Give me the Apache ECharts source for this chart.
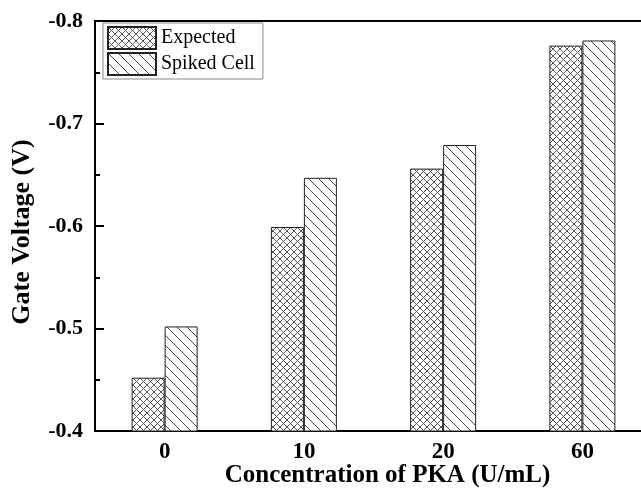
<!DOCTYPE html>
<html>
<head>
<meta charset="utf-8">
<script src="https://cdn.jsdelivr.net/npm/echarts@6/dist/echarts.min.js"></script>
<style>
  html, body { margin: 0; padding: 0; background: #fff; }
  #chart { width: 641px; height: 489px; }
</style>
</head>
<body>
<div id="chart"></div>
<script>
// data
const categories = ['0', '10', '20', '60'];
const seriesNames = ['Expected', 'Spiked Cell'];
const expected = [-0.452, -0.599, -0.656, -0.776];
const spiked = [-0.502, -0.647, -0.679, -0.781];

const FONT = '"Liberation Serif", "Times New Roman", serif';

// hatch patterns drawn on small canvases
function crossHatch() {
  const c = document.createElement('canvas');
  c.width = 7; c.height = 7;
  const g = c.getContext('2d');
  g.fillStyle = '#fff';
  g.fillRect(0, 0, 7, 7);
  g.strokeStyle = '#555';
  g.lineWidth = 1;
  g.beginPath();
  g.moveTo(0, 0); g.lineTo(7, 7);
  g.moveTo(7, 0); g.lineTo(0, 7);
  g.stroke();
  return c;
}

function diagHatch() {
  const s = 10;
  const c = document.createElement('canvas');
  c.width = s; c.height = s;
  const g = c.getContext('2d');
  g.fillStyle = '#fff';
  g.fillRect(0, 0, s, s);
  g.strokeStyle = '#444';
  g.lineWidth = 1;
  g.beginPath();
  g.moveTo(-1, -1); g.lineTo(s + 1, s + 1);
  g.moveTo(-1, s - 1); g.lineTo(1, s + 1);
  g.moveTo(s - 1, -1); g.lineTo(s + 1, 1);
  g.stroke();
  return c;
}

const chart = echarts.init(document.getElementById('chart'));

const option = {
  animation: false,
  backgroundColor: '#fff',
  grid: {
    left: 95,
    top: 21,
    width: 557,
    height: 410,
    outerBoundsMode: 'none',
    show: true,
    borderColor: '#000',
    borderWidth: 2
  },
  legend: {
    orient: 'vertical',
    left: 103,
    top: 23,
    icon: 'rect',
    itemWidth: 48,
    itemHeight: 22,
    itemGap: 2,
    padding: [3, 8, 3, 4],
    borderColor: '#888',
    borderWidth: 1,
    textStyle: { fontFamily: FONT, fontSize: 20, color: '#000' },
    data: seriesNames
  },
  xAxis: {
    type: 'category',
    data: categories,
    axisLine: { lineStyle: { color: '#000', width: 2 } },
    axisTick: { alignWithLabel: true, length: 8, lineStyle: { color: '#000', width: 2 } },
    axisLabel: { fontFamily: FONT, fontSize: 23, fontWeight: 'bold', color: '#000', margin: 10 },
    name: 'Concentration of PKA (U/mL)',
    nameLocation: 'middle',
    nameMoveOverlap: false,
    nameGap: 32,
    nameTextStyle: { fontFamily: FONT, fontSize: 25, fontWeight: 'bold', color: '#000', padding: [0, 0, 0, 28] }
  },
  yAxis: {
    type: 'value',
    inverse: true,
    min: -0.8,
    max: -0.4,
    interval: 0.1,
    splitLine: { show: false },
    axisLine: { show: true, lineStyle: { color: '#000', width: 2 } },
    axisTick: { show: true, inside: true, length: 9, lineStyle: { color: '#000', width: 2 } },
    minorTick: { show: true, splitNumber: 2, length: 5, lineStyle: { color: '#000', width: 2 } },
    axisLabel: {
      fontFamily: FONT, fontSize: 22, fontWeight: 'bold', color: '#000', margin: 12,
      formatter: v => v.toFixed(1)
    },
    name: 'Gate Voltage (V)',
    nameLocation: 'middle',
    nameMoveOverlap: false,
    nameGap: 60,
    nameTextStyle: { fontFamily: FONT, fontSize: 26, fontWeight: 'bold', color: '#000', padding: [0, 12, 0, 0] }
  },
  series: [
    {
      name: seriesNames[0],
      type: 'bar',
      data: expected,
      barWidth: 33,
      barGap: '0%',
      clip: true,
      itemStyle: { color: { image: crossHatch(), repeat: 'repeat' }, borderColor: '#222', borderWidth: 1 }
    },
    {
      name: seriesNames[1],
      type: 'bar',
      data: spiked,
      barWidth: 33,
      barGap: '0%',
      clip: true,
      itemStyle: { color: { image: diagHatch(), repeat: 'repeat' }, borderColor: '#222', borderWidth: 1 }
    }
  ]
};

chart.setOption(option);
</script>
</body>
</html>
